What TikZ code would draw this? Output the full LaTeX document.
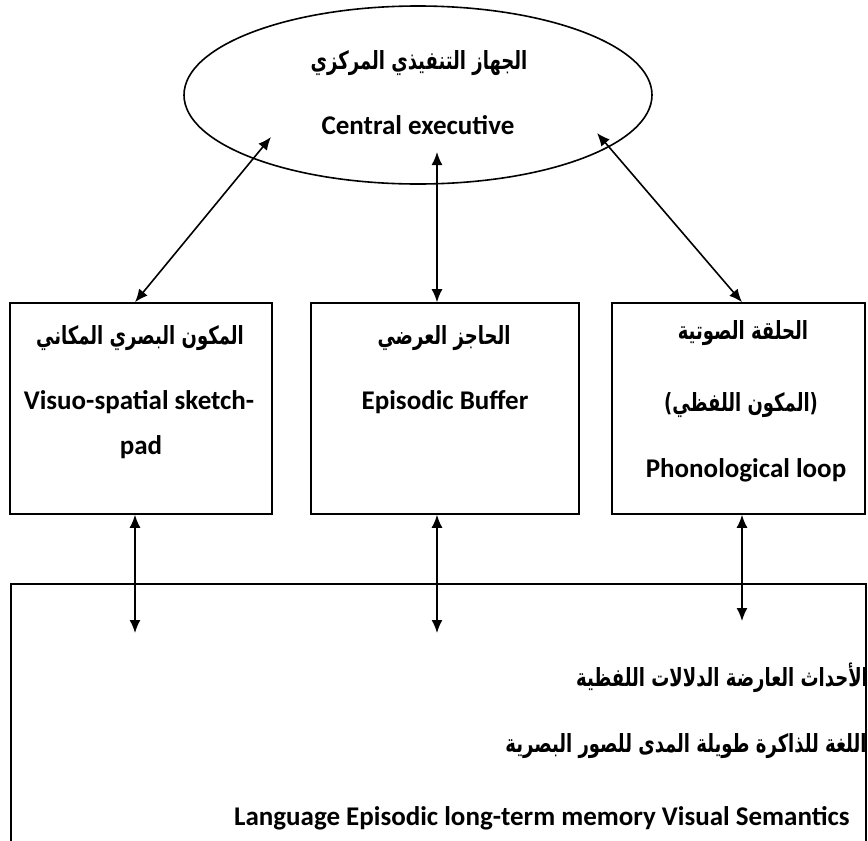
\documentclass[tikz,border=0pt]{standalone}
\usepackage{fontspec}
\setmainfont{Carlito}
\newfontfamily\arabicfont[Script=Arabic,FakeStretch=0.72]{DejaVu Sans}
\TeXXeTstate=1
\usetikzlibrary{shapes.geometric,arrows.meta,calc}
\tikzstyle{arrow} = [line width=0.8pt,<->,>={Latex[length=6.5pt,width=5.5pt]}]
\tikzstyle{box} = [draw,line width=0.8pt,rectangle,inner sep=0pt]
\tikzstyle{en} = [font=\fontsize{13.5}{16}\selectfont\bfseries,inner sep=0pt]
\tikzstyle{ar} = [font=\fontsize{12.5}{15}\selectfont\arabicfont\bfseries,inner sep=0pt]
\newcommand{\artext}[1]{\beginR #1\endR}

\begin{document}
\begin{tikzpicture}[x=0.5pt,y=-0.5pt]

\useasboundingbox (0,0) rectangle (868,841);
\clip (0,0) rectangle (868,841);

% central executive
\node[draw,ellipse,line width=0.8pt,minimum width=234pt,minimum height=89pt] (ce) at (418,95) {};
\node[ar] (ceAr) at (419,63) {\artext{الجهاز التنفيذي المركزي}};
\node[en] (ceEn) at (418,125) {Central executive};

% the three components
\node[box,minimum width=131pt,minimum height=105.5pt] (vs) at (141,408.5) {};
\node[box,minimum width=134pt,minimum height=105.5pt] (eb) at (445,408.5) {};
\node[box,minimum width=126.5pt,minimum height=105.5pt] (pl) at (738.5,408.5) {};

\node[ar] (vsAr) at (140,338) {\artext{المكون البصري المكاني}};
\node[en] (vsEn) at (139,402) {Visuo-spatial sketch-};
\node[en] (vsEnb) at (141,447) {pad};

\node[ar] (ebAr) at (444,338) {\artext{الحاجز العرضي}};
\node[en] (ebEn) at (445,402) {Episodic Buffer};

\node[ar] (plAr) at (743,333) {\artext{الحلقة الصوتية}};
\node[ar] (plArb) at (741,405) {\artext{(المكون اللفظي)}};
\node[en] (plEn) at (746,470) {Phonological loop};

% long-term memory
\node[box,anchor=north west,minimum width=427.5pt,minimum height=200pt] (ltm) at (10,583) {};
\node[ar] (ltmAr) at (722,678) {\artext{الأحداث العارضة الدلالات اللفظية}};
\node[ar] (ltmArb) at (686,746) {\artext{اللغة للذاكرة طويلة المدى للصور البصرية}};
\node[en,anchor=east] (ltmEn) at (850,818) {Language Episodic long-term memory Visual Semantics};

\coordinate (ceL) at (271,137);
\coordinate (ceM) at (437,152);
\coordinate (ceR) at (597,133);
\coordinate (ltmL) at (135,633);
\coordinate (ltmM) at (437,633);
\coordinate (ltmR) at (742,621);

\foreach \b/\t/\c in {vs/ceL/ltmL, eb/ceM/ltmM, pl/ceR/ltmR}{
	\draw[arrow] (\t) -- (\b.north -| \c);
	\draw[arrow] (\b.south -| \c) -- (\c);
}

\end{tikzpicture}
\end{document}
